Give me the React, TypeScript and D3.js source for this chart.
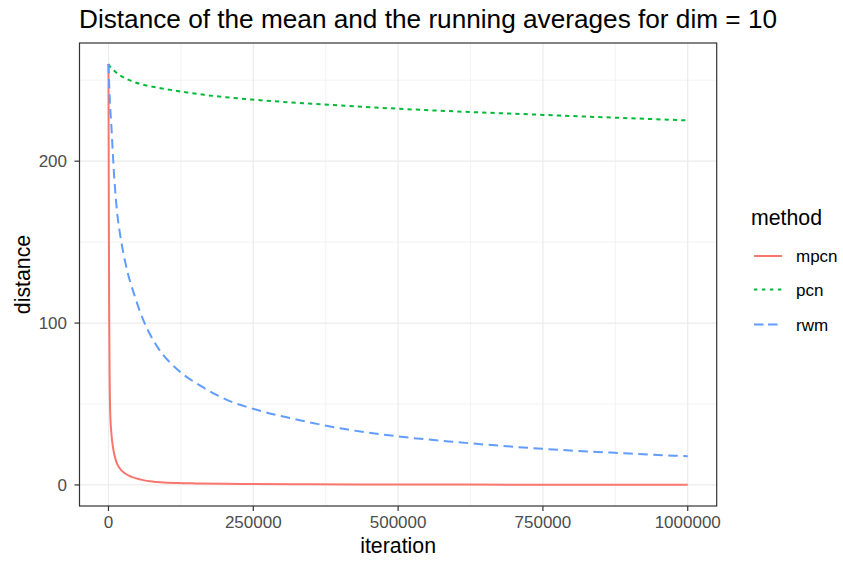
import React from "react";
import * as d3 from "d3";

const iterMpcn = [0, 300, 700, 1200, 2000, 3000, 5000, 7500, 10000, 15000, 20000, 27500, 40000, 56000, 75000, 90000, 120000, 150000, 200000, 250000, 350000, 500000, 750000, 1000000];
const valMpcn = [260, 215, 160, 110, 68, 45, 32, 24, 19, 13, 10, 7.4, 5, 3.3, 2.2, 1.7, 1.2, 0.95, 0.7, 0.55, 0.4, 0.28, 0.18, 0.13];

const iterPcn = [0, 2000, 5000, 10000, 20000, 40000, 60000, 90000, 125000, 165000, 250000, 350000, 500000, 750000, 1000000];
const valPcn = [260, 258.8, 257.5, 255.8, 253, 249.5, 247.2, 245.1, 243, 241, 238, 235.5, 232.4, 228.6, 225.2];

const iterRwm = [0, 1000, 2000, 3500, 5000, 7500, 10000, 15000, 20000, 30000, 45000, 60000, 85000, 120000, 160000, 215000, 250000, 330000, 400000, 500000, 600000, 750000, 900000, 1000000];
const valRwm = [260, 250, 240, 230, 222, 205, 190, 168, 155, 136, 117, 102, 85, 71, 61, 51, 47, 40, 35, 30, 26.5, 22.3, 19.4, 17.7];

const methods = ["mpcn", "pcn", "rwm"];
const colors = ["#F8766D", "#00BA38", "#619CFF"];
const dashes = ["none", "4.2,4.1", "9.5,5.5"];
const legendDashes = ["none", "3.4,4.6", "9.5,4.5"];

const xTicks = [0, 250000, 500000, 750000, 1000000];
const xMinor = [125000, 375000, 625000, 875000];
const yTicks = [0, 100, 200];
const yMinor = [50, 150, 250];

const W = 843;
const H = 561;
const PL = 79.5, PR = 716.7, PT = 43, PB = 506;

export default function App() {
  const x = d3.scaleLinear().domain([-50000, 1050000]).range([PL, PR]);
  const y = d3.scaleLinear().domain([-13, 273]).range([PB, PT]);
  const series = [
    { it: iterMpcn, v: valMpcn },
    { it: iterPcn, v: valPcn },
    { it: iterRwm, v: valRwm },
  ];
  const line = d3
    .line<[number, number]>()
    .x((d) => x(d[0]))
    .y((d) => y(d[1]))
    .curve(d3.curveMonotoneX);
  const font = "'Liberation Sans', Arial, Helvetica, sans-serif";
  const legendY = [256, 289.5, 324.5];

  return (
    <svg
      width={W}
      height={H}
      style={{ position: "absolute", left: 0, top: 0, background: "#fff" }}
      fontFamily={font}
    >
      <rect x={0} y={0} width={W} height={H} fill="#fff" />
      <text x={79} y={28} fontSize={26.2} fill="#000">
        Distance of the mean and the running averages for dim = 10
      </text>
      {/* grid */}
      {xMinor.map((t) => (
        <line key={"xm" + t} x1={x(t)} x2={x(t)} y1={PT} y2={PB} stroke="#EBEBEB" strokeWidth={0.6} />
      ))}
      {yMinor.map((t) => (
        <line key={"ym" + t} x1={PL} x2={PR} y1={y(t)} y2={y(t)} stroke="#EBEBEB" strokeWidth={0.6} />
      ))}
      {xTicks.map((t) => (
        <line key={"xM" + t} x1={x(t)} x2={x(t)} y1={PT} y2={PB} stroke="#EBEBEB" strokeWidth={1.2} />
      ))}
      {yTicks.map((t) => (
        <line key={"yM" + t} x1={PL} x2={PR} y1={y(t)} y2={y(t)} stroke="#EBEBEB" strokeWidth={1.2} />
      ))}
      {/* lines */}
      <g clipPath="url(#clipP)">
        {series.map((s, i) => (
          <path
            key={methods[i]}
            d={line(s.it.map((it, j) => [it, s.v[j]] as [number, number])) || ""}
            fill="none"
            stroke={colors[i]}
            strokeWidth={2}
            strokeDasharray={dashes[i]}
          />
        ))}
      </g>
      <defs>
        <clipPath id="clipP">
          <rect x={PL} y={PT} width={PR - PL} height={PB - PT} />
        </clipPath>
      </defs>
      <rect x={PL} y={PT} width={PR - PL} height={PB - PT} fill="none" stroke="#333333" strokeWidth={1.2} />
      {/* axes */}
      {xTicks.map((t) => (
        <g key={"xt" + t}>
          <line x1={x(t)} x2={x(t)} y1={PB} y2={PB + 5} stroke="#333333" strokeWidth={1.2} />
          <text x={x(t)} y={528} textAnchor="middle" fontSize={17} fill="#4D4D4D">
            {String(t)}
          </text>
        </g>
      ))}
      {yTicks.map((t) => (
        <g key={"yt" + t}>
          <line x1={PL - 5} x2={PL} y1={y(t)} y2={y(t)} stroke="#333333" strokeWidth={1.2} />
          <text x={67} y={y(t) + 6} textAnchor="end" fontSize={17} fill="#4D4D4D">
            {String(t)}
          </text>
        </g>
      ))}
      <text x={(PL + PR) / 2} y={553} textAnchor="middle" fontSize={21.3} fill="#000">
        iteration
      </text>
      <text
        transform={`translate(30,${(PT + PB) / 2}) rotate(-90)`}
        textAnchor="middle"
        fontSize={21.3}
        fill="#000"
      >
        distance
      </text>
      {/* legend */}
      <text x={751} y={225} fontSize={21.3} fill="#000">
        method
      </text>
      {methods.map((m, i) => (
        <g key={"lg" + m}>
          <line
            x1={754}
            x2={782}
            y1={legendY[i]}
            y2={legendY[i]}
            stroke={colors[i]}
            strokeWidth={2}
            strokeDasharray={legendDashes[i]}
          />
          <text x={796} y={legendY[i] + 6} fontSize={17} fill="#000">
            {m}
          </text>
        </g>
      ))}
    </svg>
  );
}
